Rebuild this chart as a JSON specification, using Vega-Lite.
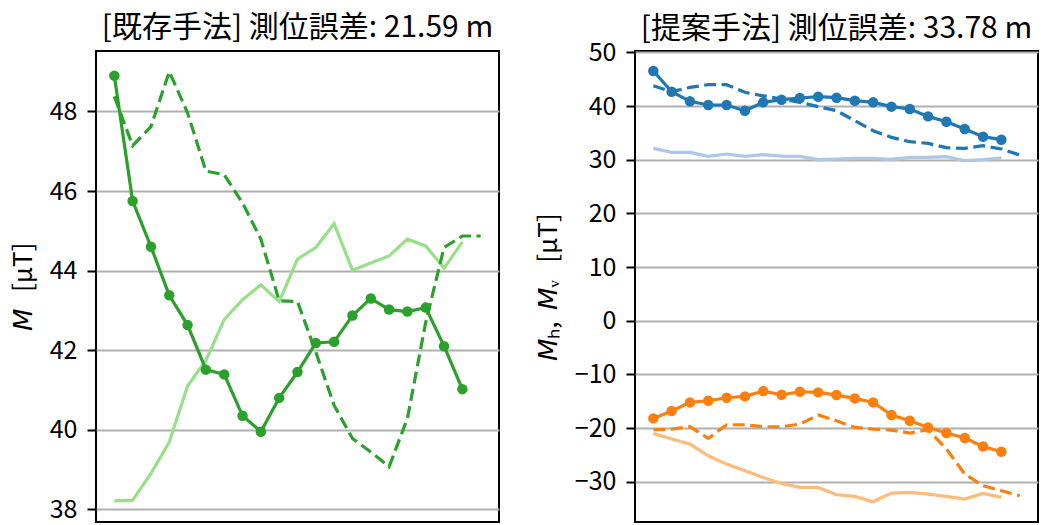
{
  "$schema": "https://vega.github.io/schema/vega-lite/v6.json",
  "padding": {"left": 9, "top": 12, "right": 2, "bottom": 1},
  "bounds": "flush",
  "spacing": 136,
  "config": {
    "font": "Noto Sans CJK JP",
    "view": {"stroke": "black", "strokeWidth": 2},
    "axis": {"grid": true, "gridColor": "#b0b0b0", "gridWidth": 2, "domain": false, "tickColor": "black", "tickWidth": 2, "tickSize": 9, "labelPadding": 10, "labelFontSize": 25, "labelColor": "black", "titleFontSize": 26, "titleFontWeight": "normal", "titleColor": "black", "titlePadding": 13, "labelFont": "Noto Sans CJK JP", "titleFont": "Noto Sans CJK JP"},
    "title": {"fontSize": 30, "fontWeight": "normal", "color": "black", "font": "Noto Sans CJK JP", "anchor": "middle"}
  },
  "datasets": {
    "left": [
      {"s": "main", "x": 0, "y": 48.90}, {"s": "main", "x": 1, "y": 45.75}, {"s": "main", "x": 2, "y": 44.60}, {"s": "main", "x": 3, "y": 43.38}, {"s": "main", "x": 4, "y": 42.63}, {"s": "main", "x": 5, "y": 41.51}, {"s": "main", "x": 6, "y": 41.39}, {"s": "main", "x": 7, "y": 40.35}, {"s": "main", "x": 8, "y": 39.95}, {"s": "main", "x": 9, "y": 40.80}, {"s": "main", "x": 10, "y": 41.45}, {"s": "main", "x": 11, "y": 42.18}, {"s": "main", "x": 12, "y": 42.21}, {"s": "main", "x": 13, "y": 42.87}, {"s": "main", "x": 14, "y": 43.30}, {"s": "main", "x": 15, "y": 43.02}, {"s": "main", "x": 16, "y": 42.97}, {"s": "main", "x": 17, "y": 43.07}, {"s": "main", "x": 18, "y": 42.10}, {"s": "main", "x": 19, "y": 41.02},
      {"s": "dash", "x": 0, "y": 48.38}, {"s": "dash", "x": 1, "y": 47.14}, {"s": "dash", "x": 2, "y": 47.62}, {"s": "dash", "x": 3, "y": 49.0}, {"s": "dash", "x": 4, "y": 47.96}, {"s": "dash", "x": 5, "y": 46.50}, {"s": "dash", "x": 6, "y": 46.41}, {"s": "dash", "x": 7, "y": 45.70}, {"s": "dash", "x": 8, "y": 44.79}, {"s": "dash", "x": 9, "y": 43.24}, {"s": "dash", "x": 10, "y": 43.22}, {"s": "dash", "x": 11, "y": 41.95}, {"s": "dash", "x": 12, "y": 40.61}, {"s": "dash", "x": 13, "y": 39.78}, {"s": "dash", "x": 14, "y": 39.44}, {"s": "dash", "x": 15, "y": 39.07}, {"s": "dash", "x": 16, "y": 40.28}, {"s": "dash", "x": 17, "y": 42.70}, {"s": "dash", "x": 18, "y": 44.58}, {"s": "dash", "x": 19, "y": 44.87}, {"s": "dash", "x": 20, "y": 44.87},
      {"s": "light", "x": 0, "y": 38.21}, {"s": "light", "x": 1, "y": 38.23}, {"s": "light", "x": 2, "y": 38.90}, {"s": "light", "x": 3, "y": 39.69}, {"s": "light", "x": 4, "y": 41.10}, {"s": "light", "x": 5, "y": 41.74}, {"s": "light", "x": 6, "y": 42.77}, {"s": "light", "x": 7, "y": 43.27}, {"s": "light", "x": 8, "y": 43.64}, {"s": "light", "x": 9, "y": 43.22}, {"s": "light", "x": 10, "y": 44.29}, {"s": "light", "x": 11, "y": 44.58}, {"s": "light", "x": 12, "y": 45.18}, {"s": "light", "x": 13, "y": 44.01}, {"s": "light", "x": 14, "y": 44.19}, {"s": "light", "x": 15, "y": 44.37}, {"s": "light", "x": 16, "y": 44.79}, {"s": "light", "x": 17, "y": 44.62}, {"s": "light", "x": 18, "y": 44.06}, {"s": "light", "x": 19, "y": 44.72}
    ],
    "right": [
      {"s": "h_main", "k": "main", "x": 0, "y": 46.52}, {"s": "h_main", "k": "main", "x": 1, "y": 42.67}, {"s": "h_main", "k": "main", "x": 2, "y": 40.87}, {"s": "h_main", "k": "main", "x": 3, "y": 40.19}, {"s": "h_main", "k": "main", "x": 4, "y": 40.19}, {"s": "h_main", "k": "main", "x": 5, "y": 39.13}, {"s": "h_main", "k": "main", "x": 6, "y": 40.68}, {"s": "h_main", "k": "main", "x": 7, "y": 41.18}, {"s": "h_main", "k": "main", "x": 8, "y": 41.49}, {"s": "h_main", "k": "main", "x": 9, "y": 41.74}, {"s": "h_main", "k": "main", "x": 10, "y": 41.55}, {"s": "h_main", "k": "main", "x": 11, "y": 40.99}, {"s": "h_main", "k": "main", "x": 12, "y": 40.68}, {"s": "h_main", "k": "main", "x": 13, "y": 39.88}, {"s": "h_main", "k": "main", "x": 14, "y": 39.44}, {"s": "h_main", "k": "main", "x": 15, "y": 38.07}, {"s": "h_main", "k": "main", "x": 16, "y": 37.08}, {"s": "h_main", "k": "main", "x": 17, "y": 35.71}, {"s": "h_main", "k": "main", "x": 18, "y": 34.29}, {"s": "h_main", "k": "main", "x": 19, "y": 33.73},
      {"s": "h_dash", "k": "dash", "x": 0, "y": 43.79}, {"s": "h_dash", "k": "dash", "x": 1, "y": 42.67}, {"s": "h_dash", "k": "dash", "x": 2, "y": 43.48}, {"s": "h_dash", "k": "dash", "x": 3, "y": 43.98}, {"s": "h_dash", "k": "dash", "x": 4, "y": 43.98}, {"s": "h_dash", "k": "dash", "x": 5, "y": 42.55}, {"s": "h_dash", "k": "dash", "x": 6, "y": 41.9}, {"s": "h_dash", "k": "dash", "x": 7, "y": 41.3}, {"s": "h_dash", "k": "dash", "x": 8, "y": 40.68}, {"s": "h_dash", "k": "dash", "x": 9, "y": 39.88}, {"s": "h_dash", "k": "dash", "x": 10, "y": 39.13}, {"s": "h_dash", "k": "dash", "x": 11, "y": 37.27}, {"s": "h_dash", "k": "dash", "x": 12, "y": 35.40}, {"s": "h_dash", "k": "dash", "x": 13, "y": 34.16}, {"s": "h_dash", "k": "dash", "x": 14, "y": 33.35}, {"s": "h_dash", "k": "dash", "x": 15, "y": 33.04}, {"s": "h_dash", "k": "dash", "x": 16, "y": 32.24}, {"s": "h_dash", "k": "dash", "x": 17, "y": 32.11}, {"s": "h_dash", "k": "dash", "x": 18, "y": 32.6}, {"s": "h_dash", "k": "dash", "x": 19, "y": 32.0}, {"s": "h_dash", "k": "dash", "x": 20, "y": 30.87},
      {"s": "h_light", "k": "light", "x": 0, "y": 32.11}, {"s": "h_light", "k": "light", "x": 1, "y": 31.37}, {"s": "h_light", "k": "light", "x": 2, "y": 31.37}, {"s": "h_light", "k": "light", "x": 3, "y": 30.62}, {"s": "h_light", "k": "light", "x": 4, "y": 31.06}, {"s": "h_light", "k": "light", "x": 5, "y": 30.62}, {"s": "h_light", "k": "light", "x": 6, "y": 30.93}, {"s": "h_light", "k": "light", "x": 7, "y": 30.68}, {"s": "h_light", "k": "light", "x": 8, "y": 30.62}, {"s": "h_light", "k": "light", "x": 9, "y": 30.0}, {"s": "h_light", "k": "light", "x": 10, "y": 30.12}, {"s": "h_light", "k": "light", "x": 11, "y": 30.25}, {"s": "h_light", "k": "light", "x": 12, "y": 30.25}, {"s": "h_light", "k": "light", "x": 13, "y": 30.06}, {"s": "h_light", "k": "light", "x": 14, "y": 30.43}, {"s": "h_light", "k": "light", "x": 15, "y": 30.43}, {"s": "h_light", "k": "light", "x": 16, "y": 30.56}, {"s": "h_light", "k": "light", "x": 17, "y": 29.81}, {"s": "h_light", "k": "light", "x": 18, "y": 30.0}, {"s": "h_light", "k": "light", "x": 19, "y": 30.31},
      {"s": "v_main", "k": "main", "x": 0, "y": -18.20}, {"s": "v_main", "k": "main", "x": 1, "y": -16.83}, {"s": "v_main", "k": "main", "x": 2, "y": -15.22}, {"s": "v_main", "k": "main", "x": 3, "y": -14.91}, {"s": "v_main", "k": "main", "x": 4, "y": -14.35}, {"s": "v_main", "k": "main", "x": 5, "y": -14.10}, {"s": "v_main", "k": "main", "x": 6, "y": -13.11}, {"s": "v_main", "k": "main", "x": 7, "y": -13.79}, {"s": "v_main", "k": "main", "x": 8, "y": -13.23}, {"s": "v_main", "k": "main", "x": 9, "y": -13.35}, {"s": "v_main", "k": "main", "x": 10, "y": -13.85}, {"s": "v_main", "k": "main", "x": 11, "y": -14.47}, {"s": "v_main", "k": "main", "x": 12, "y": -15.22}, {"s": "v_main", "k": "main", "x": 13, "y": -17.58}, {"s": "v_main", "k": "main", "x": 14, "y": -18.63}, {"s": "v_main", "k": "main", "x": 15, "y": -19.88}, {"s": "v_main", "k": "main", "x": 16, "y": -20.93}, {"s": "v_main", "k": "main", "x": 17, "y": -21.86}, {"s": "v_main", "k": "main", "x": 18, "y": -23.42}, {"s": "v_main", "k": "main", "x": 19, "y": -24.41},
      {"s": "v_dash", "k": "dash", "x": 0, "y": -20.31}, {"s": "v_dash", "k": "dash", "x": 1, "y": -20.19}, {"s": "v_dash", "k": "dash", "x": 2, "y": -19.75}, {"s": "v_dash", "k": "dash", "x": 3, "y": -21.93}, {"s": "v_dash", "k": "dash", "x": 4, "y": -19.38}, {"s": "v_dash", "k": "dash", "x": 5, "y": -19.38}, {"s": "v_dash", "k": "dash", "x": 6, "y": -19.75}, {"s": "v_dash", "k": "dash", "x": 7, "y": -19.75}, {"s": "v_dash", "k": "dash", "x": 8, "y": -19.25}, {"s": "v_dash", "k": "dash", "x": 9, "y": -17.58}, {"s": "v_dash", "k": "dash", "x": 10, "y": -18.63}, {"s": "v_dash", "k": "dash", "x": 11, "y": -19.88}, {"s": "v_dash", "k": "dash", "x": 12, "y": -20.19}, {"s": "v_dash", "k": "dash", "x": 13, "y": -20.37}, {"s": "v_dash", "k": "dash", "x": 14, "y": -20.93}, {"s": "v_dash", "k": "dash", "x": 15, "y": -20.31}, {"s": "v_dash", "k": "dash", "x": 16, "y": -23.91}, {"s": "v_dash", "k": "dash", "x": 17, "y": -28.57}, {"s": "v_dash", "k": "dash", "x": 18, "y": -30.75}, {"s": "v_dash", "k": "dash", "x": 19, "y": -31.68}, {"s": "v_dash", "k": "dash", "x": 20, "y": -32.61},
      {"s": "v_light", "k": "light", "x": 0, "y": -20.99}, {"s": "v_light", "k": "light", "x": 1, "y": -22.05}, {"s": "v_light", "k": "light", "x": 2, "y": -22.98}, {"s": "v_light", "k": "light", "x": 3, "y": -25.16}, {"s": "v_light", "k": "light", "x": 4, "y": -26.71}, {"s": "v_light", "k": "light", "x": 5, "y": -27.95}, {"s": "v_light", "k": "light", "x": 6, "y": -29.19}, {"s": "v_light", "k": "light", "x": 7, "y": -30.31}, {"s": "v_light", "k": "light", "x": 8, "y": -31.06}, {"s": "v_light", "k": "light", "x": 9, "y": -31.06}, {"s": "v_light", "k": "light", "x": 10, "y": -32.42}, {"s": "v_light", "k": "light", "x": 11, "y": -32.73}, {"s": "v_light", "k": "light", "x": 12, "y": -33.73}, {"s": "v_light", "k": "light", "x": 13, "y": -32.11}, {"s": "v_light", "k": "light", "x": 14, "y": -31.99}, {"s": "v_light", "k": "light", "x": 15, "y": -32.30}, {"s": "v_light", "k": "light", "x": 16, "y": -32.73}, {"s": "v_light", "k": "light", "x": 17, "y": -33.23}, {"s": "v_light", "k": "light", "x": 18, "y": -32.17}, {"s": "v_light", "k": "light", "x": 19, "y": -32.92}
    ]
  },
  "hconcat": [
    {
      "width": 403,
      "height": 471,
      "data": {"name": "left"},
      "title": {"text": "[既存手法] 測位誤差: 21.59 m", "offset": 8},
      "encoding": {
        "x": {"field": "x", "type": "quantitative", "scale": {"domain": [-1, 21], "nice": false, "zero": false}, "axis": null},
        "y": {"field": "y", "type": "quantitative", "scale": {"domain": [37.68, 49.52], "nice": false, "zero": false}, "axis": {"values": [38, 40, 42, 44, 46, 48], "title": "𝘔\u00a0\u00a0\u00a0[μT]"}},
        "order": {"field": "x"}
      },
      "layer": [
        {"transform": [{"filter": "datum.s == 'light'"}], "mark": {"type": "line", "color": "#98df8a", "strokeWidth": 3.2}},
        {"transform": [{"filter": "datum.s == 'dash'"}], "mark": {"type": "line", "color": "#2ca02c", "strokeWidth": 3.2, "strokeDash": [12, 5.5]}},
        {"transform": [{"filter": "datum.s == 'main'"}], "mark": {"type": "line", "color": "#2ca02c", "strokeWidth": 3.2}},
        {"transform": [{"filter": "datum.s == 'main'"}], "mark": {"type": "point", "filled": true, "opacity": 1, "color": "#2ca02c", "size": 110}}
      ]
    },
    {
      "width": 403,
      "height": 471,
      "data": {"name": "right"},
      "title": {"text": "[提案手法] 測位誤差: 33.78 m", "offset": -4},
      "encoding": {
        "x": {"field": "x", "type": "quantitative", "scale": {"domain": [-1, 21], "nice": false, "zero": false}, "axis": null},
        "y": {"field": "y", "type": "quantitative", "scale": {"domain": [-37.5, 50.25], "nice": false, "zero": false}, "axis": {"values": [-30, -20, -10, 0, 10, 20, 30, 40, 50], "labelExpr": "replace(datum.label, '-', '−')", "title": "𝘔ₕ,\u00a0\u00a0𝘔ᵥ\u00a0\u00a0\u00a0[μT]"}},
        "color": {"field": "s", "type": "nominal", "scale": {"domain": ["h_main", "h_dash", "h_light", "v_main", "v_dash", "v_light"], "range": ["#1f77b4", "#1f77b4", "#aec7e8", "#ff7f0e", "#ff7f0e", "#ffbb78"]}, "legend": null},
        "order": {"field": "x"}
      },
      "layer": [
        {"transform": [{"filter": "datum.k == 'light'"}], "mark": {"type": "line", "strokeWidth": 3.2}},
        {"transform": [{"filter": "datum.k == 'dash'"}], "mark": {"type": "line", "strokeWidth": 3.2, "strokeDash": [12, 5.5]}},
        {"transform": [{"filter": "datum.k == 'main'"}], "mark": {"type": "line", "strokeWidth": 3.2}},
        {"transform": [{"filter": "datum.k == 'main'"}], "mark": {"type": "point", "filled": true, "opacity": 1, "size": 110}}
      ]
    }
  ]
}
